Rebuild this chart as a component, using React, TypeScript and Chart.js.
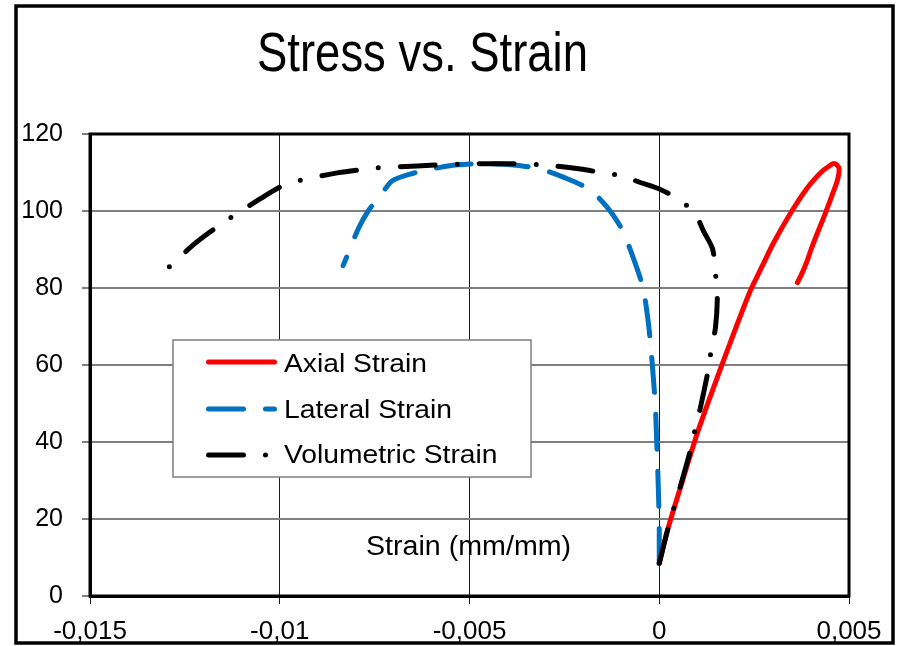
import { useEffect, useRef } from 'react';
import { Chart, registerables } from 'chart.js';

Chart.register(...registerables);

// Stress (MPa) against strain (mm/mm) for the three measured strains
const axialStrain = [
  0, 0.00024, 0.0006, 0.001, 0.0014, 0.0017, 0.002, 0.0024, 0.0027, 0.003, 0.00345,
  0.0039, 0.0043, 0.0045, 0.00458, 0.00468, 0.00474, 0.00469, 0.00455, 0.00443, 0.0043,
  0.00416, 0.004, 0.0039, 0.00377, 0.00364,
];
const axialStress = [
  8.5, 17.9, 29.5, 42.2, 53.3, 61.3, 69.2, 79.3, 85.4, 91.5, 99.3,
  106, 110.4, 111.8, 112.3, 112.0, 110.9, 107.8, 104, 100.8, 97.5,
  94.1, 90, 87.1, 84, 81.4,
];

const lateralStrain = [
  0, 0, -0.00001, -0.00004, -0.00007, -0.0001, -0.00015, -0.00022, -0.0003, -0.00042,
  -0.0006, -0.00095, -0.00124, -0.0016, -0.0019, -0.00248, -0.003, -0.00345, -0.004,
  -0.0045, -0.005, -0.00556, -0.0061, -0.00656, -0.00704, -0.00735, -0.00767, -0.00793,
  -0.00833,
];
const lateralStress = [
  8.5, 17, 23, 33, 41, 49, 56, 64.5, 72, 79.8,
  85.5, 94.6, 99.3, 103.5, 106, 108.6, 110.5, 111.5, 112.1,
  112.3, 112.2, 111.7, 110.7, 109.6, 107.8, 104, 100, 95.4,
  85.8,
];

const volumetricStrain = [
  0, 0.00024, 0.00055, 0.00082, 0.00095, 0.00108, 0.00129, 0.00137, 0.00148, 0.00153,
  0.0015, 0.00148, 0.0014, 0.00116, 0.00095, 0.00053, 0.00003, -0.0005, -0.00097, -0.00148,
  -0.00208, -0.00308, -0.00419, -0.00524, -0.00638, -0.00743, -0.00848, -0.00954, -0.01004,
  -0.01051, -0.01138, -0.01183, -0.01228, -0.01302,
];
const volumetricStress = [
  8.5, 17.9, 28.3, 37.8, 43.5, 48.7, 58.6, 64, 69.6, 77,
  80, 85, 90.3, 94.9, 99.3, 102.9, 105.6, 107.4, 109.1, 109.9,
  110.9, 112.0, 112.3, 112.2, 111.7, 111.2, 109.9, 107.8, 106.0,
  103.2, 97.7, 94.6, 91.2, 84.5,
];

const seriesNames = ['Axial Strain', 'Lateral Strain', 'Volumetric Strain'];
const seriesColors = ['#FF0000', '#0070C0', '#000000'];
const seriesDashes: number[][] = [[], [35, 22], [35, 22, 0, 22]];

const xTickValues = [-0.015, -0.01, -0.005, 0, 0.005];
const xTickLabels = ['-0,015', '-0,01', '-0,005', '0', '0,005'];
const yTickValues = [0, 20, 40, 60, 80, 100, 120];
const yTickLabels = ['0', '20', '40', '60', '80', '100', '120'];

const chartTitle = 'Stress vs. Strain';
const xAxisTitle = 'Strain (mm/mm)';

const FONT = '"Liberation Sans", Arial, sans-serif';

const toPoints = (xs: number[], ys: number[]) => xs.map((x, i) => ({ x, y: ys[i] }));

// Draws text with a horizontal stretch factor, left-aligned at (x, y) baseline
function stretchedText(ctx: CanvasRenderingContext2D, text: string, x: number, y: number, sx: number) {
  ctx.save();
  ctx.translate(x, y);
  ctx.scale(sx, 1);
  ctx.textAlign = 'left';
  ctx.textBaseline = 'alphabetic';
  ctx.fillText(text, 0, 0);
  ctx.restore();
}

// Page background, outer frame, title, plot frame, in-plot axis title and legend
const decorations = {
  id: 'decorations',
  beforeDraw(chart: any) {
    const ctx = chart.ctx as CanvasRenderingContext2D;
    ctx.save();
    ctx.fillStyle = '#ffffff';
    ctx.fillRect(0, 0, chart.width, chart.height);
    ctx.strokeStyle = '#000000';
    ctx.lineWidth = 3.5;
    ctx.strokeRect(16, 6, 877, 637);
    ctx.fillStyle = '#000000';
    ctx.font = `56px ${FONT}`;
    const titleWidth = 331;
    const sx = titleWidth / ctx.measureText(chartTitle).width;
    stretchedText(ctx, chartTitle, 257, 71, sx);
    ctx.restore();
  },
  beforeDatasetsDraw(chart: any) {
    const { ctx, chartArea: a } = chart;
    ctx.save();
    ctx.strokeStyle = '#000000';
    ctx.lineWidth = 3;
    ctx.strokeRect(a.left, a.top, a.right - a.left, a.bottom - a.top);
    ctx.restore();
  },
  afterDatasetsDraw(chart: any) {
    const ctx = chart.ctx as CanvasRenderingContext2D;
    ctx.save();
    ctx.fillStyle = '#000000';
    ctx.font = `27px ${FONT}`;
    stretchedText(ctx, xAxisTitle, 366, 555, 1.06);

    // legend box
    const bx = 173, by = 340, bw = 358, bh = 137;
    ctx.fillStyle = '#ffffff';
    ctx.fillRect(bx, by, bw, bh);
    ctx.strokeStyle = '#7f7f7f';
    ctx.lineWidth = 1.5;
    ctx.strokeRect(bx, by, bw, bh);

    const rowY = [362, 409, 455];
    const textY = [372, 418, 463];
    seriesNames.forEach((name, i) => {
      ctx.beginPath();
      ctx.setLineDash(seriesDashes[i]);
      ctx.lineDashOffset = 0;
      ctx.lineCap = 'round';
      ctx.lineWidth = 5;
      ctx.strokeStyle = seriesColors[i];
      ctx.moveTo(208.5, rowY[i]);
      ctx.lineTo(274.5, rowY[i]);
      ctx.stroke();
      ctx.setLineDash([]);
      ctx.fillStyle = '#000000';
      ctx.font = `25px ${FONT}`;
      stretchedText(ctx, name, 284, textY[i], 1.13);
    });
    ctx.restore();
  },
};

export default function App() {
  const canvasRef = useRef<HTMLCanvasElement | null>(null);

  useEffect(() => {
    const canvas = canvasRef.current;
    if (!canvas) return;

    const series = [
      toPoints(axialStrain, axialStress),
      toPoints(lateralStrain, lateralStress),
      toPoints(volumetricStrain, volumetricStress),
    ];

    const chart = new Chart(canvas, {
      type: 'scatter',
      data: {
        datasets: series.map((data, i) => ({
          label: seriesNames[i],
          data,
          showLine: true,
          borderColor: seriesColors[i],
          backgroundColor: seriesColors[i],
          borderWidth: 5,
          borderDash: seriesDashes[i],
          borderCapStyle: 'round' as const,
          borderJoinStyle: 'round' as const,
          pointRadius: 0,
          pointHoverRadius: 0,
          tension: 0.25,
          order: 3 - i,
        })),
      },
      options: {
        responsive: false,
        animation: false,
        events: [],
        layout: { padding: { left: 0, top: 134, right: 52, bottom: 0 } },
        plugins: {
          legend: { display: false },
          title: { display: false },
          tooltip: { enabled: false },
        },
        scales: {
          x: {
            type: 'linear',
            min: -0.015,
            max: 0.005,
            afterFit: (s: any) => {
              s.height = 50;
            },
            afterBuildTicks: (s: any) => {
              s.ticks = xTickValues.map((value) => ({ value }));
            },
            ticks: {
              color: '#000000',
              padding: 12,
              font: { family: FONT, size: 26 },
              maxRotation: 0,
              autoSkip: false,
              callback: (_v: any, i: number) => xTickLabels[i],
            },
            grid: {
              color: '#1a1a1a',
              lineWidth: 1,
              tickLength: 8,
              drawTicks: true,
            },
            border: { display: true, color: '#000000', width: 3 },
          },
          y: {
            type: 'linear',
            min: 0,
            max: 120,
            afterFit: (s: any) => {
              s.width = 90;
            },
            afterBuildTicks: (s: any) => {
              s.ticks = yTickValues.map((value) => ({ value }));
            },
            ticks: {
              color: '#000000',
              padding: 19,
              font: { family: FONT, size: 25 },
              autoSkip: false,
              callback: (_v: any, i: number) => yTickLabels[i],
            },
            grid: {
              color: '#7f7f7f',
              lineWidth: 2,
              tickLength: 8,
              drawTicks: true,
            },
            border: { display: true, color: '#000000', width: 3 },
          },
        },
      },
      plugins: [decorations],
    });

    return () => chart.destroy();
  }, []);

  return (
    <div style={{ position: 'absolute', left: 0, top: 0, width: 901, height: 646 }}>
      <canvas ref={canvasRef} width={901} height={646} style={{ display: 'block' }} />
    </div>
  );
}
